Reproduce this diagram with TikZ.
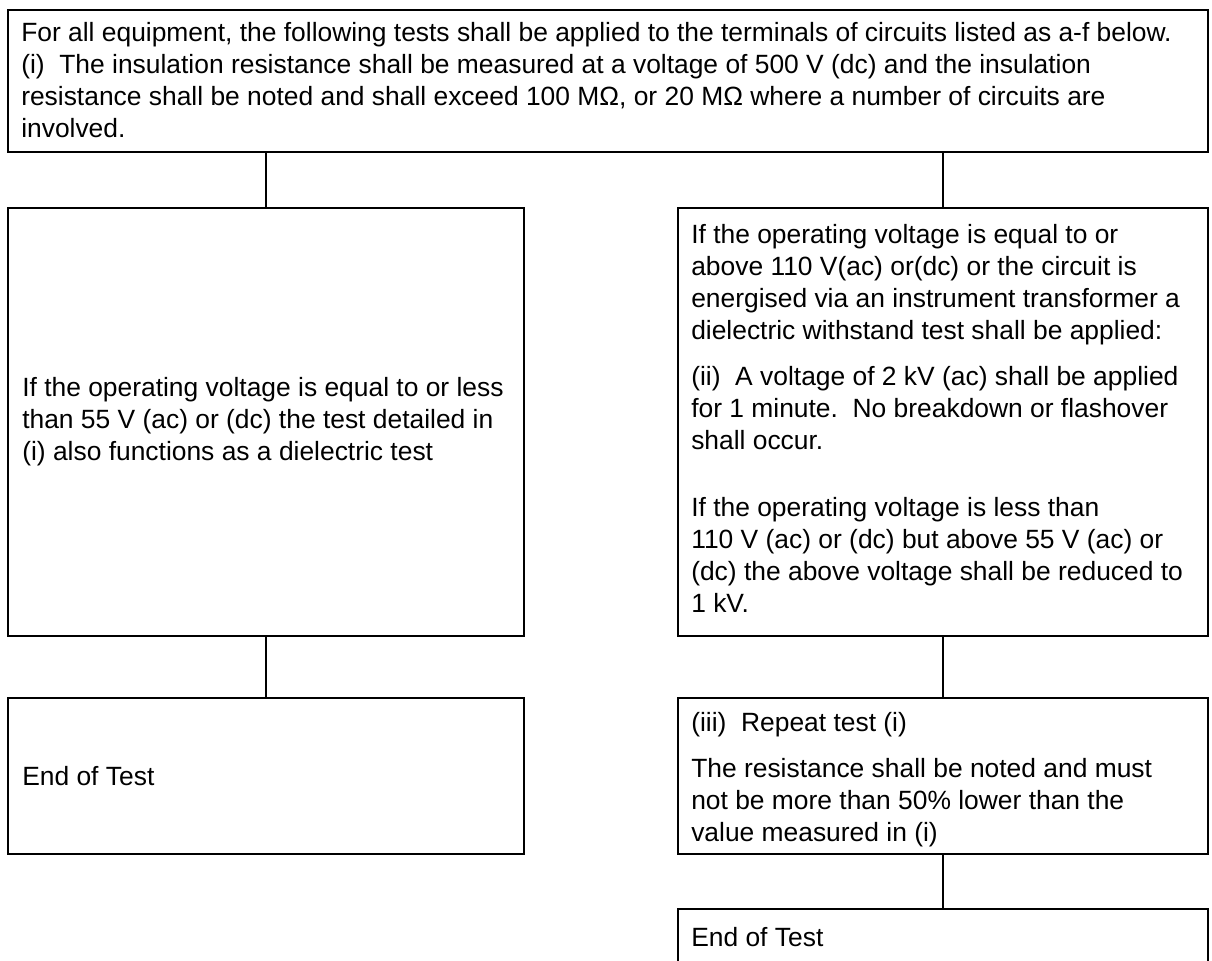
\documentclass[tikz,border=0pt]{standalone}
\usepackage{fontspec}
\setmainfont{Liberation Sans}
\usetikzlibrary{calc}
\begin{document}
\begin{tikzpicture}[x=0.75pt,y=-0.75pt,
  box/.style={draw, line width=1.5pt, inner sep=0pt, anchor=north west},
  wide/.style={minimum width=397.5pt},
  narrow/.style={minimum width=387pt},
  link/.style={draw, line width=1.1pt},
  txt/.style={inner sep=0pt, align=left, font=\fontsize{19.8pt}{24pt}\selectfont},
]
\useasboundingbox (0,0) rectangle (1212,960);
\clip (0,0) rectangle (1212,960);

% boxes
\node[box, minimum width=900pt, minimum height=106.5pt] (top) at (7,9) {};
\node[box, narrow, minimum height=321pt] (lm) at (7,207) {};
\node[box, wide, minimum height=321pt] (rm) at (677,207) {};
\node[box, narrow, minimum height=117pt] (ll) at (7,697) {};
\node[box, wide, minimum height=117pt] (rl) at (677,697) {};
\node[box, wide, minimum height=90pt] (rb) at (677,908) {};

% connectors
\draw[link] (top.south -| lm.north) -- (lm.north);
\draw[link] (top.south -| rm.north) -- (rm.north);
\draw[link] (lm.south) -- (ll.north);
\draw[link] (rm.south) -- (rl.north);
\draw[link] (rl.south) -- (rb.north);

% texts
\node[txt, anchor=north west] (topT) at ($(top.north west)+(14,13)$)
 {For all equipment, the following tests shall be applied to the terminals of circuits listed as a-f below.\\
  (i)\ \ The insulation resistance shall be measured at a voltage of 500 V (dc) and the insulation\\
  resistance shall be noted and shall exceed 100 MΩ, or 20 MΩ where a number of circuits are\\
  involved.};

\node[txt, anchor=west] (lmT) at ($(lm.west)+(15,0)$)
 {If the operating voltage is equal to or less\\
  than 55 V (ac) or (dc) the test detailed in\\
  (i) also functions as a dielectric test};

\node[txt, anchor=north west] (rmT) at ($(rm.north west)+(14,17)$)
 {If the operating voltage is equal to or\\
  above 110 V(ac) or(dc) or the circuit is\\
  energised via an instrument transformer a\\
  dielectric withstand test shall be applied:\\[10.5pt]
  (ii)\ \ A voltage of 2 kV (ac) shall be applied\\
  for 1 minute.\ \ No breakdown or flashover\\
  shall occur.\\[26pt]
  If the operating voltage is less than\\
  110 V (ac) or (dc) but above 55 V (ac) or\\
  (dc) the above voltage shall be reduced to\\
  1 kV.};

\node[txt, anchor=west] (llT) at ($(ll.west)+(15,0)$) {End of Test};

\node[txt, anchor=north west] (rlT) at ($(rl.north west)+(14,15)$)
 {(iii)\ \ Repeat test (i)\\[10.5pt]
  The resistance shall be noted and must\\
  not be more than 50\% lower than the\\
  value measured in (i)};

\node[txt, anchor=north west] (rbT) at ($(rb.north west)+(14,19)$) {End of Test};
\end{tikzpicture}
\end{document}
